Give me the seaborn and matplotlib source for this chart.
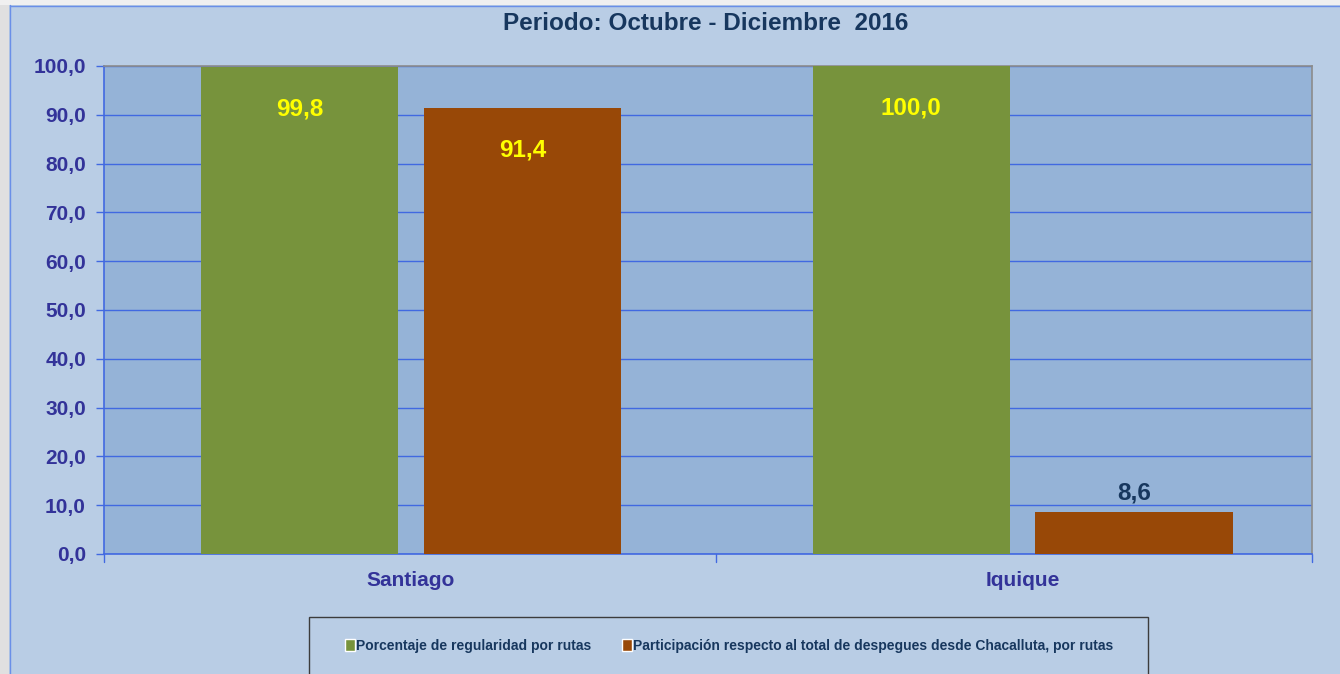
import numpy as np
import pandas as pd
import seaborn as sns
import matplotlib.pyplot as plt
from matplotlib.patches import Rectangle, Patch

rutas = ["Santiago", "Iquique"]
regularidad = [99.8, 100.0]
participacion = [91.4, 8.6]
serie_reg = "Porcentaje de regularidad por rutas"
serie_par = "Participación respecto al total de despegues desde Chacalluta, por rutas"
titulo = "Periodo: Octubre - Diciembre  2016"

df = pd.DataFrame({
    "ruta": rutas * 2,
    "valor": regularidad + participacion,
    "serie": [serie_reg] * len(rutas) + [serie_par] * len(rutas),
})

sns.set_style("white")
plt.rcParams["font.family"] = ["Liberation Sans", "DejaVu Sans"]
plt.rcParams["font.weight"] = "bold"

fondo = "#B9CDE5"
area = "#95B3D7"
azul = "#4169E1"
indigo = "#333399"
navy = "#17375E"
colores = {serie_reg: "#77933C", serie_par: "#984807"}

fig = plt.figure(figsize=(13.4, 6.74), dpi=100, facecolor=fondo)
# marco exterior
fig.patches.append(Rectangle((0, 0), 9 / 1340, 1, transform=fig.transFigure,
                             facecolor="#E0E0E0", edgecolor="none", zorder=-1))
fig.patches.append(Rectangle((0, 1 - 5 / 674), 1, 5 / 674, transform=fig.transFigure,
                             facecolor="#F0F0F0", edgecolor="none", zorder=-1))
fig.lines.append(plt.Line2D([9.5 / 1340, 9.5 / 1340], [0, 1 - 5 / 674], transform=fig.transFigure,
                            color="#6A8FE8", lw=1))
fig.lines.append(plt.Line2D([9.5 / 1340, 1], [1 - 5.5 / 674, 1 - 5.5 / 674], transform=fig.transFigure,
                            color="#6A8FE8", lw=1))

ax = fig.add_axes([104 / 1340, 120 / 674, (1312 - 104) / 1340, (554 - 66) / 674])
ax.set_facecolor(area)

sns.barplot(data=df, x="ruta", y="valor", hue="serie", palette=colores,
            width=0.728, gap=0.115, saturation=1, linewidth=0,
            ax=ax, legend=False, zorder=3)

ax.set_ylim(0, 100)
ax.set_xlim(-0.502, 1.473)
ax.set_yticks(np.arange(0, 101, 10))
ax.set_yticklabels([f"{v:.1f}".replace(".", ",") for v in np.arange(0, 101, 10)],
                   color=indigo, fontsize=15, fontweight="bold")
ax.yaxis.grid(True, color=azul, lw=1, zorder=0)
ax.set_axisbelow(True)
ax.tick_params(axis="y", length=6, color=azul, width=1, left=True, pad=7)

ax.set_xticks([0, 1])
ax.set_xticklabels(rutas, color=indigo, fontsize=15, fontweight="bold")
ax.tick_params(axis="x", length=0, pad=12)
for xb in [-0.502, 0.499, 1.473]:
    ax.plot([xb, xb], [0, -0.016], transform=ax.get_xaxis_transform(),
            color=azul, lw=1, clip_on=False)
ax.set_xlabel("")
ax.set_ylabel("")

for s in ["left", "bottom"]:
    ax.spines[s].set_color(azul)
    ax.spines[s].set_linewidth(1.2)
for s in ["top", "right"]:
    ax.spines[s].set_color("#8C8C8C")
    ax.spines[s].set_linewidth(1.2)

for cont in ax.containers:
    for barra in cont:
        v = barra.get_height()
        xc = barra.get_x() + barra.get_width() / 2
        texto = f"{v:.1f}".replace(".", ",")
        if v > 50:
            ax.annotate(texto, (xc, v), xytext=(0, -30), textcoords="offset points",
                        ha="center", va="center", color="#FFFF00", fontsize=17.5, fontweight="bold")
        else:
            ax.annotate(texto, (xc, v), xytext=(0, 14), textcoords="offset points",
                        ha="center", va="center", color=navy, fontsize=17.5, fontweight="bold")

fig.text(706 / 1340, 1 - 24 / 674, titulo, ha="center", va="center",
         color=navy, fontsize=17.5, fontweight="bold")

# leyenda
fig.patches.append(Rectangle((309 / 1340, -0.02), (1148 - 309) / 1340, (57 / 674) + 0.02,
                             transform=fig.transFigure, facecolor=fondo,
                             edgecolor="#3C3C3C", lw=1))
handles = [Patch(facecolor=colores[serie_reg]), Patch(facecolor=colores[serie_par])]
fig.legend(handles, [serie_reg, serie_par], loc="center", ncol=2,
           bbox_to_anchor=(729 / 1340, 1 - 646 / 674), frameon=False,
           handlelength=0.7, handleheight=0.9, handletextpad=0.1, columnspacing=2.2,
           prop={"size": 10, "weight": "bold"}, labelcolor=navy)

fig.savefig("out.png", dpi=100, facecolor=fondo)
